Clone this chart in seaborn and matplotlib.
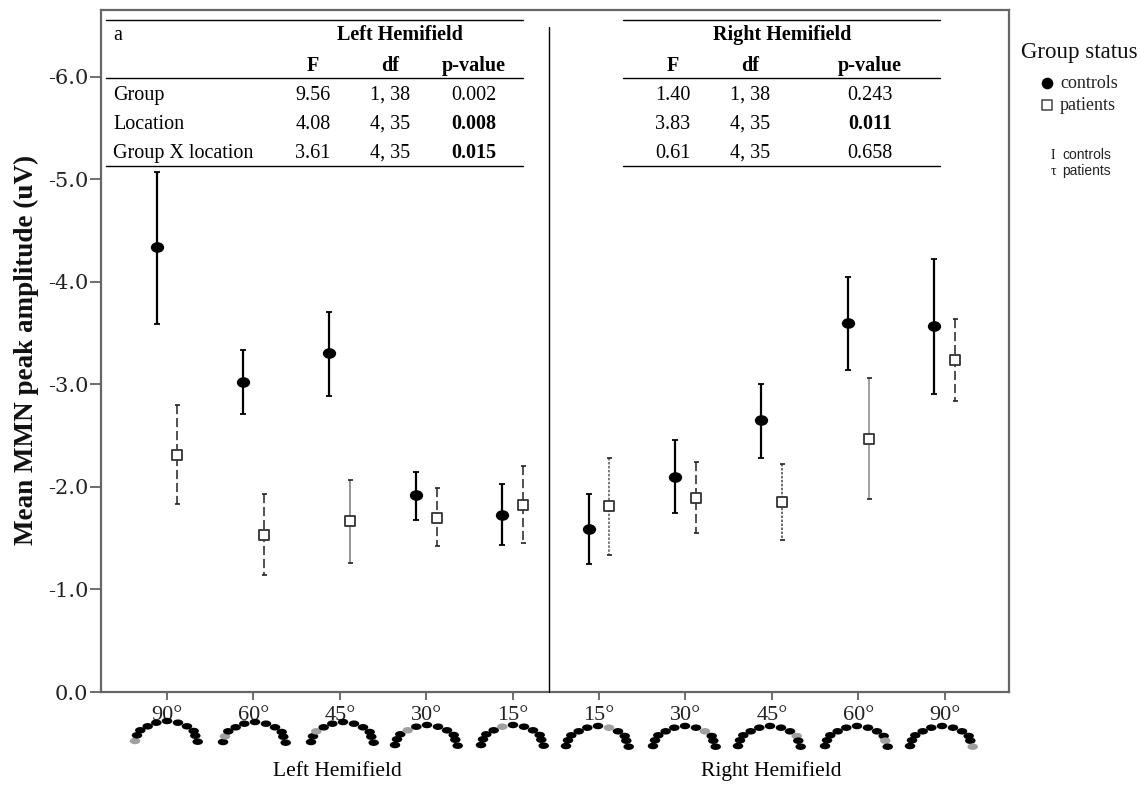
import pandas as pd
import numpy as np
import matplotlib
matplotlib.use('Agg')
import matplotlib.pyplot as plt
import seaborn as sns
from matplotlib.patches import Ellipse
from matplotlib.path import Path
from matplotlib.transforms import Affine2D

angles = ['90°', '60°', '45°', '30°', '15°', '15°', '30°', '45°', '60°', '90°']
controls_mean = [-4.34, -3.02, -3.31, -1.92, -1.73, -1.59, -2.10, -2.65, -3.60, -3.57]
controls_low = [-5.07, -3.33, -3.71, -2.15, -2.03, -1.93, -2.46, -3.00, -4.05, -4.22]
controls_high = [-3.59, -2.71, -2.89, -1.68, -1.43, -1.25, -1.75, -2.28, -3.14, -2.91]
patients_mean = [-2.31, -1.53, -1.67, -1.70, -1.82, -1.81, -1.89, -1.85, -2.47, -3.24]
patients_low = [-2.80, -1.93, -2.07, -1.99, -2.20, -2.28, -2.24, -2.22, -3.06, -3.64]
patients_high = [-1.83, -1.14, -1.26, -1.42, -1.45, -1.34, -1.55, -1.48, -1.88, -2.84]
y_ticks = [0.0, -1.0, -2.0, -3.0, -4.0, -5.0, -6.0]

row_names = ['Group', 'Location', 'Group X location']
left_f = ['9.56', '4.08', '3.61']
left_df = ['1, 38', '4, 35', '4, 35']
left_p = ['0.002', '0.008', '0.015']
right_f = ['1.40', '3.83', '0.61']
right_df = ['1, 38', '4, 35', '4, 35']
right_p = ['0.243', '0.011', '0.658']
left_bold = [False, True, True]
right_bold = [False, True, False]

sns.set_theme(style='white')
plt.rcParams['font.family'] = ['Liberation Serif', 'DejaVu Serif']

W, H = 1141, 785
fig = plt.figure(figsize=(W / 100, H / 100), dpi=100)
ax = fig.add_axes([101 / W, (H - 692) / H, 908 / W, 682 / H])

pos = np.arange(10)
offset = 0.12
df = pd.DataFrame({
    'x': np.concatenate([pos - offset, pos + offset]),
    'y': controls_mean + patients_mean,
    'group': ['controls'] * 10 + ['patients'] * 10,
})

# error bars first so the markers sit on top
ax.errorbar(pos - offset, controls_mean,
            yerr=[np.array(controls_mean) - np.array(controls_low),
                  np.array(controls_high) - np.array(controls_mean)],
            fmt='none', ecolor='black', elinewidth=1.6, capsize=2, capthick=1.3, zorder=2)
err = ax.errorbar(pos + offset, patients_mean,
                  yerr=[np.array(patients_mean) - np.array(patients_low),
                        np.array(patients_high) - np.array(patients_mean)],
                  fmt='none', ecolor='#222222', elinewidth=1.1, capsize=1.8, capthick=1.2, zorder=2)

# the patient bars were not all drawn alike in the original
dash = (0, (6, 2.5))
fine = (0, (1.6, 1))
err[2][0].set_linestyle([dash, dash, '-', dash, dash, fine, dash, fine, '-', dash])
err[2][0].set_color(['#222222', '#222222', '#777777', '#222222', '#222222',
                     '#555555', '#222222', '#444444', '#888888', '#222222'])

oval = Path.unit_circle().transformed(Affine2D().scale(1, 0.8))
sns.scatterplot(data=df[df.group == 'controls'], x='x', y='y', ax=ax, color='black',
                marker=oval, s=92, edgecolor='black', linewidth=0, zorder=3, legend=False)
sns.scatterplot(data=df[df.group == 'patients'], x='x', y='y', ax=ax, color='white',
                marker='s', s=60, edgecolor='#333333', linewidth=1.3, zorder=3, legend=False)

ax.set_xlim(-0.764, 9.745)
ax.set_ylim(0, -6.65)
ax.set_xticks(pos)
ax.set_xticklabels(angles, fontsize=16, color='#222222')
ax.set_yticks(y_ticks)
ax.set_yticklabels([f'{abs(v):.1f}' if v == 0 else f'-{abs(v):.1f}' for v in y_ticks],
                   fontsize=15, family='DejaVu Serif', color='#222222')
ax.tick_params(axis='x', length=6, width=1.2, color='#555555', pad=4, bottom=True)
ax.tick_params(axis='y', length=8, width=1.2, color='#555555', pad=1, left=True)
ax.set_xlabel('')
ax.set_ylabel('')
for s in ax.spines.values():
    s.set_color('#666666')
    s.set_linewidth(1.6)

# overlay in pixel coordinates for the table, arcs and legend
ov = fig.add_axes([0, 0, 1, 1], facecolor='none')
ov.set_xlim(0, W)
ov.set_ylim(H, 0)
ov.axis('off')

ov.plot([549, 549], [27, 692], color='black', lw=1)

for x0, x1 in [(106, 523), (623, 940)]:
    for y in [20, 78, 166]:
        ov.plot([x0, x1], [y, y], color='black', lw=1)

row_y = [100, 129, 158]


def table(title, title_x, fx, dfx, px, f, d, p, bold):
    ov.text(title_x, 40, title, ha='center', va='baseline', fontsize=14.5, fontweight='bold', color='black')
    for x, lab in [(fx, 'F'), (dfx, 'df'), (px, 'p-value')]:
        ov.text(x, 71, lab, ha='center', va='baseline', fontsize=14.5, fontweight='bold', color='black')
    for i, y in enumerate(row_y):
        ov.text(fx, y, f[i], ha='center', va='baseline', fontsize=14.5, color='black')
        ov.text(dfx, y, d[i], ha='center', va='baseline', fontsize=14.5, color='black')
        ov.text(px, y, p[i], ha='center', va='baseline', fontsize=14.5, color='black',
                fontweight='bold' if bold[i] else 'normal')


table('Left Hemifield', 400, 313, 390, 474, left_f, left_df, left_p, left_bold)
table('Right Hemifield', 782, 673, 750, 870, right_f, right_df, right_p, right_bold)
ov.text(113, 40, 'a', ha='left', va='baseline', fontsize=14.5, color='black')
for name, y in zip(row_names, row_y):
    ov.text(113, y, name, ha='left', va='baseline', fontsize=14.5, color='black')

ov.text(26, 350, 'Mean MMN peak amplitude (uV)', rotation=90, ha='center', va='center',
        fontsize=19.5, fontweight='bold', color='#111111')
ov.text(337, 776, 'Left Hemifield', ha='center', va='baseline', fontsize=15.5, color='black')
ov.text(771, 776, 'Right Hemifield', ha='center', va='baseline', fontsize=15.5, color='black')

# electrode arcs
arc_dx = [-32, -30, -26.7, -19.3, -10.7, 0, 11, 20, 26.7, 28.3, 30.7]
arc_dy = [20, 14.3, 9.3, 5.3, 1.7, 0, 1.7, 5.3, 10, 14.7, 20.7]
arc_cx = [167, 255, 343, 427, 513, 598, 685, 770, 857, 942]
arc_cy = [721, 722, 722, 725, 725, 726, 726, 726, 726, 726]
arc_grey = [0, 1, 2, 3, 4, 6, 7, 8, 9, 10]
for cx, cy, g in zip(arc_cx, arc_cy, arc_grey):
    for j in range(11):
        ov.add_patch(Ellipse((cx + arc_dx[j], cy + arc_dy[j]), 10.5, 6.5,
                             color='#a0a0a0' if j == g else 'black', lw=0, zorder=5))

# legend
ov.text(1079, 58, 'Group status', ha='center', va='baseline', fontsize=16.5, color='#111111')
ov.scatter([1047], [83], marker='o', s=70, color='black', linewidth=0)
ov.scatter([1047], [105], marker='s', s=50, color='white', edgecolor='#444444', linewidth=1.1)
ov.text(1060, 88, 'controls', ha='left', va='baseline', fontsize=13, color='#222222')
ov.text(1060, 110, 'patients', ha='left', va='baseline', fontsize=13, color='#222222')
ov.text(1053, 159, 'I', ha='center', va='baseline', fontsize=10, color='#111111')
ov.text(1053, 175, 'τ', ha='center', va='baseline', fontsize=10, color='#111111')
ov.text(1062, 159, 'controls', ha='left', va='baseline', fontsize=10, family='Liberation Sans', color='#222222')
ov.text(1062, 175, 'patients', ha='left', va='baseline', fontsize=10, family='Liberation Sans', color='#222222')

fig.savefig('out.png', dpi=100, facecolor='white')
